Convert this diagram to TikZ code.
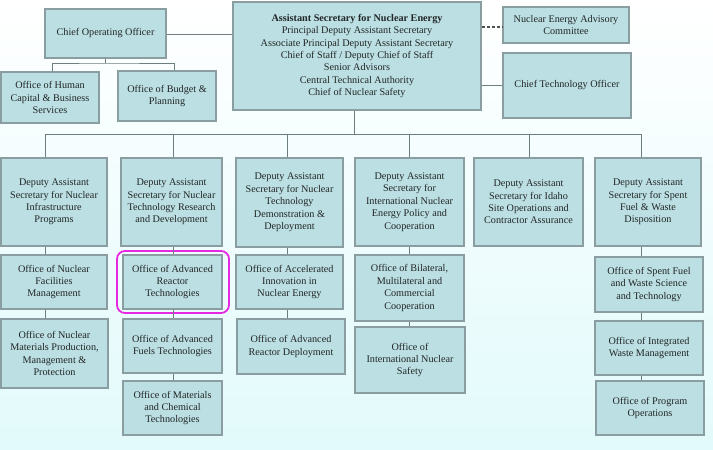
\documentclass[tikz,border=0pt]{standalone}
\usepackage{fontspec}
\setmainfont{Liberation Serif}
\usetikzlibrary{positioning,calc}

\definecolor{boxfill}{HTML}{BBDFE3}
\definecolor{boxedge}{HTML}{8A9DA1}
\definecolor{wire}{HTML}{6E7D80}
\definecolor{bgcyan}{HTML}{E2FAFB}
\definecolor{hilite}{HTML}{E628E0}
\definecolor{ink}{HTML}{222626}

\begin{document}
\begin{tikzpicture}[
  x=1pt, y=-1pt,
  every node/.style={font=\fontsize{10.2}{12.4}\selectfont, align=center, text=ink},
  unit/.style={draw=boxedge, line width=1.3pt, fill=boxfill, inner sep=1pt},
  wire/.style={draw=wire, line width=0.9pt}
]
% background
\shade[top color=white, bottom color=bgcyan] (0,0) rectangle (713,450);
\useasboundingbox (0,0) rectangle (713,450);

% front office
\node[unit, minimum width=248, minimum height=108] (asne) at (357,56)
  {\textbf{Assistant Secretary for Nuclear Energy}\\Principal Deputy Assistant Secretary\\Associate Principal Deputy Assistant Secretary\\Chief of Staff / Deputy Chief of Staff\\Senior Advisors\\Central Technical Authority\\Chief of Nuclear Safety};
\node[unit, minimum width=121, minimum height=49] (coo) at (105.5,33.5) {Chief Operating Officer};
\node[unit, minimum width=98, minimum height=51] (hcb) at (50,97.5) {Office of Human\\Capital \& Business\\Services};
\node[unit, minimum width=98, minimum height=50] (bud) at (167,96) {Office of Budget \&\\Planning};
\node[unit, minimum width=126, minimum height=36] (neac) at (566,25) {Nuclear Energy Advisory\\Committee};
\node[unit, minimum width=128, minimum height=65] (cto) at (567,85.5) {Chief Technology Officer};

% deputy assistant secretaries
\node[unit, minimum width=106, minimum height=88] (infra) at (54,202) {Deputy Assistant\\Secretary for Nuclear\\Infrastructure\\Programs};
\node[unit, minimum width=101, minimum height=88] (trd) at (171.5,202) {Deputy Assistant\\Secretary for Nuclear\\Technology Research\\and Development};
\node[unit, minimum width=107, minimum height=89] (demo) at (289.5,202.5) {Deputy Assistant\\Secretary for Nuclear\\Technology\\Demonstration \&\\Deployment};
\node[unit, minimum width=109, minimum height=88] (intl) at (409.5,202) {Deputy Assistant\\Secretary for\\International Nuclear\\Energy Policy and\\Cooperation};
\node[unit, minimum width=109, minimum height=88] (idaho) at (528.5,202) {Deputy Assistant\\Secretary for Idaho\\Site Operations and\\Contractor Assurance};
\node[unit, minimum width=106, minimum height=88] (spent) at (648,202) {Deputy Assistant\\Secretary for Spent\\Fuel \& Waste\\Disposition};

% offices
\node[unit, minimum width=106, minimum height=54] (nfm) at (54,282) {Office of Nuclear\\Facilities\\Management};
\node[unit, minimum width=107, minimum height=69] (nmp) at (54.5,353.5) {Office of Nuclear\\Materials Production,\\Management \&\\Protection};
\node[unit, minimum width=99, minimum height=54] (art) at (172.5,282) {Office of Advanced\\Reactor\\Technologies};
\node[unit, minimum width=99, minimum height=54] (aft) at (172.5,346) {Office of Advanced\\Fuels Technologies};
\node[unit, minimum width=99, minimum height=54] (mct) at (172.5,408) {Office of Materials\\and Chemical\\Technologies};
\node[unit, minimum width=107, minimum height=54] (aine) at (289.5,282) {Office of Accelerated\\Innovation in\\Nuclear Energy};
\node[unit, minimum width=108, minimum height=55] (ard) at (291,346.5) {Office of Advanced\\Reactor Deployment};
\node[unit, minimum width=109, minimum height=66] (bmc) at (409.5,288) {Office of Bilateral,\\Multilateral and\\Commercial\\Cooperation};
\node[unit, minimum width=110, minimum height=66] (ins) at (410,360) {Office of\\International Nuclear\\Safety};
\node[unit, minimum width=108, minimum height=55] (sfw) at (649,284.5) {Office of Spent Fuel\\and Waste Science\\and Technology};
\node[unit, minimum width=108, minimum height=54] (iwm) at (649,348) {Office of Integrated\\Waste Management};
\node[unit, minimum width=108, minimum height=54] (pop) at (650,408) {Office of Program\\Operations};

% highlight
\draw[hilite, line width=1.8pt, rounded corners=8pt] (117,251) rectangle (229,313);

% bus points
\coordinate (cb) at (105,63);
\coordinate (mb) at (354,134);
\coordinate (b1) at (45,134);
\coordinate (b2) at (173,134);
\coordinate (b3) at (287,134);
\coordinate (b4) at (409,134);
\coordinate (b5) at (529,134);
\coordinate (b6) at (641,134);

% front office links
\draw[wire] (coo.east |- 0,34) -- (asne.west |- 0,34);
\draw[draw=ink!80, line width=1.2pt, dash pattern=on 3pt off 2pt] (asne.east |- 0,27) -- (neac.west |- 0,27);
\draw[wire] (asne.east |- 0,85) -- (cto.west |- 0,85);
\draw[wire] (coo.south -| cb) -- (cb);
\draw[wire] (hcb.north -| 52,0) |- (cb) -| (bud.north -| 174,0);

% main tree
\draw[wire] (asne.south -| mb) -- (mb);
\draw[wire] (b1) -- (b6);
\foreach \b/\d in {b1/infra, b2/trd, b3/demo, b4/intl, b5/idaho, b6/spent}
  \draw[wire] (\b) -- (\b |- \d.north);

% columns
\draw[wire] (infra.south -| b1) -- (nfm.north -| b1);
\draw[wire] (nfm.south -| b1) -- (nmp.north -| b1);
\draw[wire] (trd.south -| b2) -- (art.north -| b2);
\draw[wire] (art.south -| b2) -- (aft.north -| b2);
\draw[wire] (aft.south -| b2) -- (mct.north -| b2);
\draw[wire] (demo.south -| b3) -- (aine.north -| b3);
\draw[wire] (aine.south -| b3) -- (ard.north -| b3);
\draw[wire] (intl.south -| b4) -- (bmc.north -| b4);
\draw[wire] (bmc.south -| b4) -- (ins.north -| b4);
\draw[wire] (spent.south -| b6) -- (sfw.north -| b6);
\draw[wire] (sfw.south -| b6) -- (iwm.north -| b6);
\draw[wire] (iwm.south -| b6) -- (pop.north -| b6);
\end{tikzpicture}
\end{document}
